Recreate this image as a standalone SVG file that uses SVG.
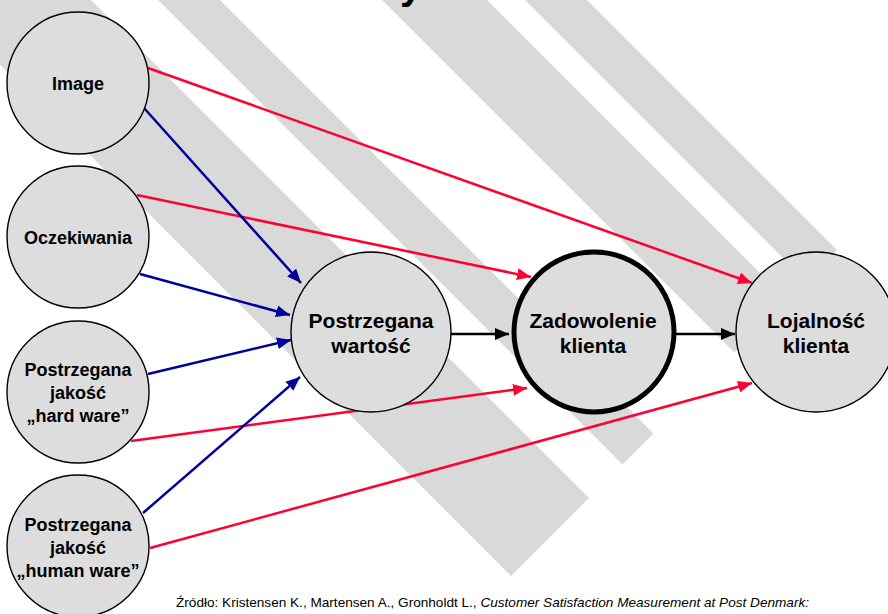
<svg xmlns="http://www.w3.org/2000/svg" width="888" height="614" viewBox="0 0 888 614">
<style>
.stripe{fill:#d9d9d9}
.node{fill:#dddddd;stroke:#000;stroke-width:1.4}
.thick{stroke-width:5}
.lbl{font-family:"Liberation Sans",Arial,sans-serif;font-weight:bold;text-anchor:middle;fill:#000}
.s{font-size:18px}
.b{font-size:21px}
.red{stroke:#ff0033;stroke-width:2.5;fill:none;marker-end:url(#ar)}
.blue{stroke:#000099;stroke-width:2.5;fill:none;marker-end:url(#ab)}
.blk{stroke:#000;stroke-width:2.5;fill:none;marker-end:url(#ak)}
.src{font-family:"Liberation Sans",Arial,sans-serif;font-size:13px;fill:#000}
</style>
<defs>
<marker id="ar" markerUnits="userSpaceOnUse" markerWidth="14" markerHeight="12" refX="14" refY="6" orient="auto"><path d="M0,0 L14,6 L0,12 z" fill="#ff0033"/></marker>
<marker id="ab" markerUnits="userSpaceOnUse" markerWidth="14" markerHeight="12" refX="14" refY="6" orient="auto"><path d="M0,0 L14,6 L0,12 z" fill="#000099"/></marker>
<marker id="ak" markerUnits="userSpaceOnUse" markerWidth="14" markerHeight="12" refX="14" refY="6" orient="auto"><path d="M0,0 L14,6 L0,12 z" fill="#000"/></marker>
</defs>
<rect width="888" height="614" fill="#fff"/>
<g id="background">
<polygon class="stripe" points="-65,0 91,0 589,498 511,576"/>
<polygon class="stripe" points="158,0 220,0 653.5,433.5 622.5,464.5"/>
<polygon class="stripe" points="382,0 487,0 787,300 734.5,352.5"/>
<polygon class="stripe" points="525,0 587,0 837,250 806,281"/>
<text x="400" y="-1" style="font-family:'Liberation Sans',Arial,sans-serif;font-weight:bold;font-size:40px">y</text>
</g>
<g id="connectors">
<line class="red" x1="148" y1="68" x2="752" y2="283"/>
<line class="red" x1="137" y1="195" x2="531" y2="277"/>
<line class="red" x1="131" y1="441" x2="527" y2="388"/>
<line class="red" x1="150" y1="548" x2="752" y2="383"/>
<line class="blue" x1="144" y1="108" x2="301" y2="283"/>
<line class="blue" x1="140" y1="274" x2="290" y2="315"/>
<line class="blue" x1="148" y1="374" x2="291" y2="340"/>
<line class="blue" x1="143" y1="513" x2="300" y2="377"/>
<line class="blk" x1="451" y1="334" x2="509" y2="334"/>
<line class="blk" x1="676" y1="334" x2="735" y2="334"/>
</g>
<g id="n-image"><circle class="node" cx="78" cy="83" r="71"/><text class="lbl s" x="78" y="90">Image</text></g>
<g id="n-oczekiwania"><circle class="node" cx="78" cy="237" r="71"/><text class="lbl s" x="78" y="244">Oczekiwania</text></g>
<g id="n-hardware"><circle class="node" cx="78" cy="392" r="71"/><text class="lbl s" x="78"><tspan x="78" y="376">Postrzegana</tspan><tspan x="78" y="399">jakość</tspan><tspan x="78" y="422">„hard ware”</tspan></text></g>
<g id="n-humanware"><circle class="node" cx="78" cy="546" r="71"/><text class="lbl s" x="78"><tspan x="78" y="531">Postrzegana</tspan><tspan x="78" y="554">jakość</tspan><tspan x="78" y="577">„human ware”</tspan></text></g>
<g id="n-wartosc"><circle class="node" cx="371" cy="332" r="80"/><text class="lbl b" x="371"><tspan x="371" y="328">Postrzegana</tspan><tspan x="371" y="353">wartość</tspan></text></g>
<g id="n-zadowolenie"><circle class="node thick" cx="594" cy="332" r="80"/><text class="lbl b" x="593"><tspan x="593" y="328">Zadowolenie</tspan><tspan x="593" y="353">klienta</tspan></text></g>
<g id="n-lojalnosc"><circle class="node" cx="816" cy="332" r="80"/><text class="lbl b" x="816"><tspan x="816" y="328">Lojalność</tspan><tspan x="816" y="353">klienta</tspan></text></g>
<text class="src" x="176" y="607" textLength="633" lengthAdjust="spacingAndGlyphs">Źródło: Kristensen K., Martensen A., Gronholdt L., <tspan font-style="italic">Customer Satisfaction Measurement at Post Denmark:</tspan></text>
</svg>
